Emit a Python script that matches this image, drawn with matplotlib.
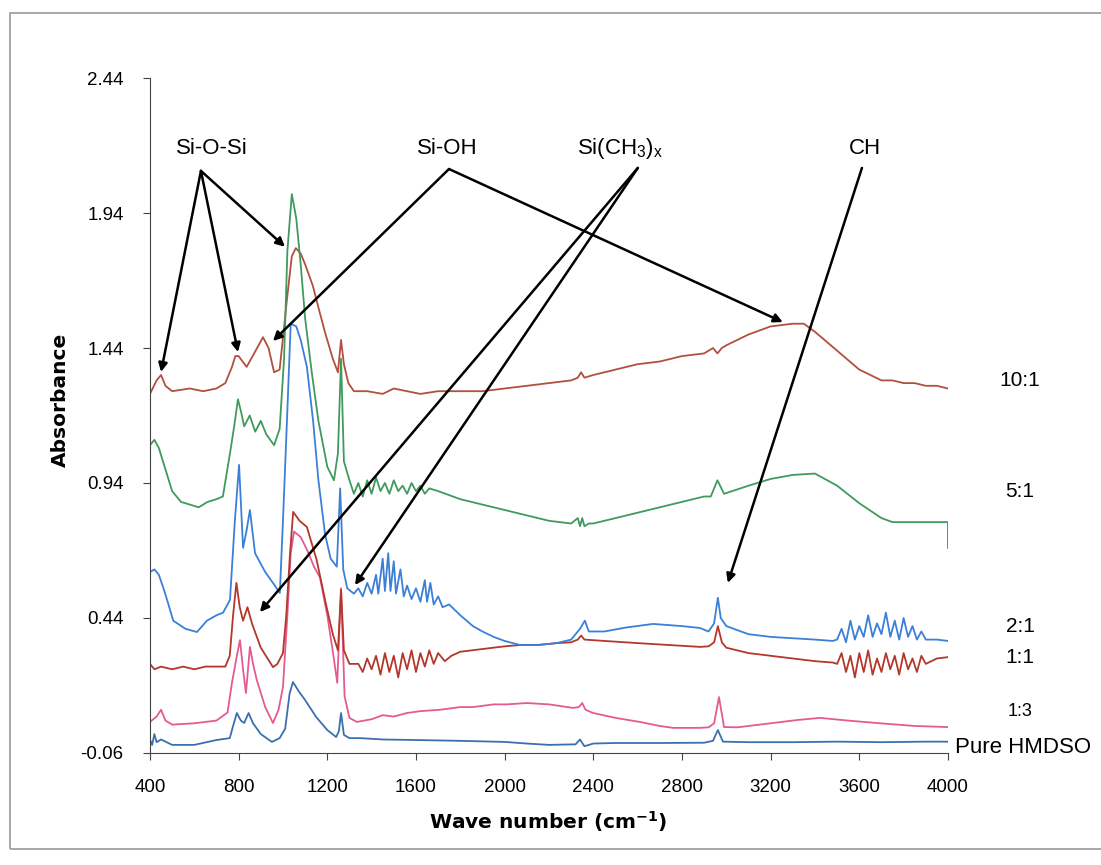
import matplotlib
matplotlib.use('Agg')
import matplotlib.pyplot as plt
from matplotlib.patches import Rectangle

plt.rcParams['font.family'] = ['Liberation Sans', 'DejaVu Sans']
plt.rcParams['mathtext.default'] = 'regular'

# 10:1
w10 = [400, 430, 450, 470, 500, 580, 640, 700, 740, 770, 785, 800, 836, 870, 910, 935, 960, 985, 1018, 1040, 1058, 1080,
       1100, 1135, 1160, 1189, 1225, 1248, 1262, 1275, 1295, 1320, 1380, 1450, 1500, 1560, 1620, 1700, 1800, 1900, 2000,
       2100, 2200, 2300, 2330, 2345, 2360, 2400, 2500, 2600, 2700, 2800, 2900, 2940, 2960, 2980, 3000, 3100, 3200, 3300,
       3350, 3400, 3500, 3600, 3650, 3700, 3750, 3800, 3850, 3900, 3950, 4000]
a10 = [1.27, 1.32, 1.34, 1.30, 1.28, 1.29, 1.28, 1.29, 1.31, 1.37, 1.41, 1.41, 1.37, 1.42, 1.48, 1.44, 1.35, 1.36, 1.62, 1.78, 1.81, 1.79,
       1.75, 1.67, 1.59, 1.50, 1.40, 1.35, 1.47, 1.38, 1.31, 1.28, 1.28, 1.27, 1.29, 1.28, 1.27, 1.28, 1.28, 1.28, 1.29,
       1.30, 1.31, 1.32, 1.33, 1.35, 1.33, 1.34, 1.36, 1.38, 1.39, 1.41, 1.42, 1.44, 1.42, 1.44, 1.45, 1.49, 1.52, 1.53,
       1.53, 1.50, 1.43, 1.36, 1.34, 1.32, 1.32, 1.31, 1.31, 1.30, 1.30, 1.29]

# 5:1
w5 = [400, 420, 440, 470, 500, 540, 580, 620, 660, 700, 729, 761, 780, 797, 812, 825, 850, 875, 900, 925, 960, 985, 1005, 1020,
      1040, 1060, 1080, 1100, 1130, 1160, 1200, 1230, 1248, 1262, 1275, 1300, 1320, 1340, 1360, 1380, 1400, 1420, 1440,
      1460, 1480, 1500, 1520, 1540, 1560, 1580, 1600, 1620, 1640, 1660, 1700, 1800, 1900, 2000, 2100, 2200, 2300, 2330,
      2340, 2350, 2360, 2380, 2400, 2500, 2600, 2700, 2800, 2900, 2930, 2960, 2990, 3100, 3200, 3300, 3400, 3500, 3600,
      3700, 3750, 3850, 4000, 4000]
a5 = [1.08, 1.10, 1.07, 0.99, 0.91, 0.87, 0.86, 0.85, 0.87, 0.88, 0.89, 1.05, 1.15, 1.25, 1.20, 1.15, 1.19, 1.13, 1.17, 1.12, 1.08, 1.14, 1.40, 1.80,
      2.01, 1.92, 1.75, 1.55, 1.35, 1.17, 1.00, 0.95, 1.05, 1.40, 1.02, 0.95, 0.90, 0.94, 0.89, 0.95, 0.90, 0.96, 0.91,
      0.94, 0.90, 0.95, 0.91, 0.93, 0.90, 0.94, 0.91, 0.93, 0.90, 0.92, 0.91, 0.88, 0.86, 0.84, 0.82, 0.80, 0.79, 0.81,
      0.78, 0.81, 0.78, 0.79, 0.79, 0.81, 0.83, 0.85, 0.87, 0.89, 0.89, 0.95, 0.90, 0.93, 0.955, 0.97, 0.975, 0.93, 0.865,
      0.81, 0.795, 0.795, 0.795, 0.70]

# 2:1
w2 = [400, 420, 440, 459, 480, 505, 560, 612, 657, 700, 730, 761, 783, 802, 820, 835, 851, 874, 920, 955, 986, 1000, 1018,
      1035, 1060, 1080, 1108, 1136, 1160, 1190, 1215, 1243, 1258, 1272, 1290, 1320, 1340, 1360, 1380, 1400, 1420, 1430,
      1450, 1460, 1475, 1485, 1500, 1510, 1530, 1545, 1560, 1580, 1600, 1620, 1640, 1650, 1665, 1680, 1700, 1720, 1750,
      1800, 1857, 1900, 1950, 2000, 2069, 2150, 2236, 2300, 2340, 2362, 2380, 2450, 2550, 2670, 2800, 2881, 2920, 2945,
      2962, 2975, 3000, 3100, 3200, 3300, 3400, 3480, 3500, 3520, 3540, 3560, 3580, 3600, 3620, 3640, 3660, 3680, 3700,
      3720, 3740, 3760, 3780, 3800, 3820, 3840, 3860, 3880, 3900, 3950, 4000]
a2 = [0.61, 0.62, 0.60, 0.555, 0.50, 0.43, 0.40, 0.388, 0.43, 0.45, 0.46, 0.507, 0.80, 1.007, 0.70, 0.76, 0.84, 0.68, 0.61, 0.57, 0.533, 0.80, 1.17,
      1.53, 1.52, 1.47, 1.37, 1.17, 0.95, 0.75, 0.66, 0.63, 0.92, 0.62, 0.55, 0.53, 0.55, 0.52, 0.57, 0.53, 0.60, 0.53,
      0.66, 0.54, 0.68, 0.54, 0.65, 0.53, 0.62, 0.52, 0.56, 0.51, 0.55, 0.50, 0.58, 0.50, 0.57, 0.49, 0.52, 0.48, 0.49,
      0.45, 0.41, 0.39, 0.37, 0.355, 0.34, 0.34, 0.347, 0.36, 0.40, 0.43, 0.39, 0.39, 0.405, 0.418, 0.41, 0.403, 0.39, 0.42,
      0.515, 0.44, 0.41, 0.38, 0.37, 0.365, 0.36, 0.355, 0.36, 0.40, 0.35, 0.43, 0.36, 0.41, 0.37, 0.45, 0.37, 0.42, 0.38,
      0.46, 0.37, 0.43, 0.36, 0.44, 0.37, 0.41, 0.36, 0.39, 0.36, 0.36, 0.355]

# 1:1
w1 = [400, 420, 450, 500, 550, 600, 650, 700, 740, 760, 775, 790, 805, 820, 840, 860, 900, 955, 975, 1000, 1015, 1032, 1046,
      1075, 1108, 1152, 1197, 1225, 1248, 1262, 1275, 1300, 1340, 1360, 1380, 1400, 1420, 1440, 1460, 1480, 1500, 1520,
      1540, 1560, 1580, 1600, 1620, 1640, 1660, 1680, 1700, 1730, 1760, 1800, 1900, 2000, 2069, 2150, 2236, 2300, 2330,
      2345, 2360, 2450, 2600, 2800, 2881, 2920, 2945, 2962, 2980, 3000, 3100, 3200, 3300, 3400, 3480, 3500, 3520, 3540,
      3560, 3580, 3600, 3620, 3640, 3660, 3680, 3700, 3720, 3740, 3760, 3780, 3800, 3820, 3840, 3860, 3880, 3900, 3950, 4000]
a1 = [0.27, 0.25, 0.26, 0.25, 0.26, 0.25, 0.26, 0.26, 0.26, 0.30, 0.45, 0.57, 0.48, 0.43, 0.48, 0.42, 0.33, 0.258, 0.27, 0.31, 0.45, 0.68, 0.833,
      0.80, 0.777, 0.655, 0.48, 0.38, 0.32, 0.544, 0.32, 0.27, 0.27, 0.24, 0.29, 0.25, 0.30, 0.23, 0.31, 0.24, 0.30, 0.22,
      0.31, 0.25, 0.32, 0.24, 0.31, 0.26, 0.32, 0.27, 0.31, 0.28, 0.30, 0.315, 0.325, 0.335, 0.34, 0.34, 0.347, 0.35, 0.36,
      0.375, 0.36, 0.355, 0.347, 0.337, 0.333, 0.335, 0.35, 0.41, 0.35, 0.33, 0.31, 0.30, 0.29, 0.28, 0.275, 0.27, 0.31, 0.24,
      0.30, 0.22, 0.31, 0.24, 0.32, 0.23, 0.29, 0.24, 0.31, 0.25, 0.30, 0.23, 0.31, 0.25, 0.29, 0.24, 0.30, 0.27, 0.29, 0.295]

# 1:3
w13 = [400, 430, 450, 470, 500, 600, 700, 750, 770, 792, 806, 820, 833, 851, 865, 882, 920, 955, 980, 1000, 1020, 1035, 1050,
       1080, 1110, 1140, 1167, 1200, 1226, 1245, 1262, 1278, 1300, 1333, 1400, 1450, 1500, 1559, 1620, 1708, 1800, 1857,
       1950, 2010, 2100, 2200, 2308, 2335, 2350, 2365, 2400, 2500, 2610, 2700, 2760, 2881, 2920, 2945, 2967, 2990, 3050,
       3150, 3250, 3319, 3422, 3550, 3693, 3850, 4000]
a13 = [0.055, 0.075, 0.10, 0.06, 0.045, 0.05, 0.06, 0.09, 0.20, 0.30, 0.358, 0.25, 0.162, 0.333, 0.27, 0.21, 0.11, 0.051, 0.10, 0.184, 0.45, 0.68, 0.76,
       0.74, 0.69, 0.63, 0.59, 0.45, 0.31, 0.20, 0.55, 0.15, 0.07, 0.055, 0.065, 0.08, 0.075, 0.088, 0.095, 0.10, 0.11, 0.11,
       0.12, 0.12, 0.125, 0.12, 0.107, 0.11, 0.125, 0.10, 0.088, 0.07, 0.055, 0.04, 0.033, 0.033, 0.035, 0.05, 0.147, 0.036, 0.035,
       0.045, 0.055, 0.062, 0.07, 0.06, 0.05, 0.04, 0.036]

# Pure HMDSO
wp = [400, 410, 420, 430, 450, 500, 600, 700, 760, 775, 792, 810, 825, 845, 865, 900, 950, 985, 1010, 1030, 1045, 1070, 1100,
      1150, 1200, 1240, 1252, 1262, 1275, 1300, 1350, 1450, 1600, 1800, 2000, 2100, 2200, 2320, 2340, 2360, 2400, 2500,
      2700, 2900, 2940, 2962, 2985, 3100, 3300, 3500, 3700, 3900, 4000]
ap = [-0.01, -0.03, 0.01, -0.02, -0.01, -0.03, -0.03, -0.012, -0.005, 0.04, 0.088, 0.06, 0.051, 0.088, 0.05, 0.01, -0.019, -0.005, 0.03, 0.16, 0.203, 0.17, 0.136,
      0.073, 0.025, -0.001, 0.02, 0.088, 0.007, -0.005, -0.005, -0.01, -0.012, -0.015, -0.019, -0.025, -0.03, -0.028, -0.01, -0.035, -0.025, -0.023,
      -0.023, -0.022, -0.015, 0.025, -0.018, -0.02, -0.02, -0.018, -0.02, -0.018, -0.018]

series = [(w10, a10, '#b0503e', '10:1', 1.32, 15),
          (w5, a5, '#3f9a5e', '5:1', 0.907, 15),
          (wp, ap, '#3b6fb0', 'Pure HMDSO', -0.041, 16),
          (w13, a13, '#e55a93', '1:3', 0.092, 13),
          (w1, a1, '#b3372a', '1:1', 0.292, 15),
          (w2, a2, '#3a80d8', '2:1', 0.407, 15)]

yticks = [-0.06, 0.44, 0.94, 1.44, 1.94, 2.44]
xticks = [400, 800, 1200, 1600, 2000, 2400, 2800, 3200, 3600, 4000]

fig = plt.figure(figsize=(11.01, 8.65), dpi=100)
ax = fig.add_axes([0.1362, 0.1295, 0.7248, 0.7803])

for w, a, col, lab, ly, fs in series:
    ax.plot(w, a, color=col, lw=1.3)
    if lab == 'Pure HMDSO':
        ax.text(4030, ly, lab, ha='left', va='center', fontsize=fs, clip_on=False)
    else:
        ax.text(4325, ly, lab, ha='center', va='center', fontsize=fs, clip_on=False)

arrows = [('Si-O-Si', (680, 2.18), (630, 2.096), [(450, 1.351), (797, 1.425), (1009, 1.815)]),
          ('Si-OH', (1740, 2.18), (1749, 2.103), [(955, 1.466), (3255, 1.536)]),
          ('Si(CH$_3$)$_x$', (2520, 2.18), (2601, 2.107), [(896, 0.462), (1325, 0.562)]),
          ('CH', (3625, 2.18), (3612, 2.107), [(3007, 0.57)])]
for lab, tpos, base, targets in arrows:
    ax.text(tpos[0], tpos[1], lab, ha='center', va='center', fontsize=16)
    for t in targets:
        ax.annotate('', xy=t, xytext=base,
                    arrowprops=dict(arrowstyle='-|>', color='black', lw=1.8,
                                    mutation_scale=13, shrinkA=0, shrinkB=0))

ax.set_xlim(400, 4000)
ax.set_ylim(-0.06, 2.44)
ax.set_xticks(xticks)
ax.set_yticks(yticks)
ax.set_yticklabels(['%.2f' % t for t in yticks])
ax.tick_params(direction='out', length=5, labelsize=13.5, color='#444')
ax.tick_params(axis='x', pad=14)
ax.tick_params(axis='y', pad=14)
ax.spines['top'].set_visible(False)
ax.spines['right'].set_visible(False)
ax.spines['left'].set_color('#444')
ax.spines['bottom'].set_color('#444')

fig.text(548 / 1101, 1 - 822 / 865, 'Wave number (cm$^{-1}$)', ha='center', va='center',
         fontsize=14.5, fontweight='bold', family='DejaVu Sans')
fig.text(60 / 1101, 1 - 400 / 865, 'Absorbance', ha='center', va='center', rotation=90,
         fontsize=14.5, fontweight='bold', family='DejaVu Sans')

fig.patches.append(Rectangle((0.009, 0.018), 0.995, 0.967, transform=fig.transFigure,
                             fill=False, edgecolor='#999999', lw=1.2))

plt.savefig('out.png', dpi=100)
